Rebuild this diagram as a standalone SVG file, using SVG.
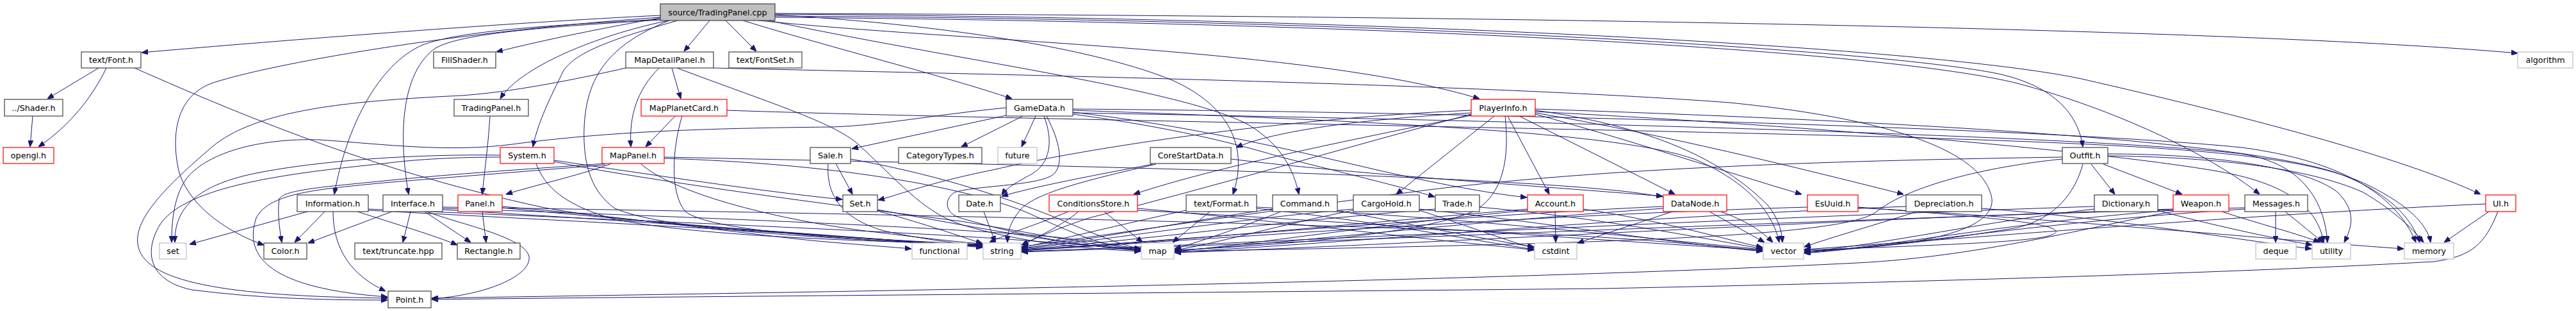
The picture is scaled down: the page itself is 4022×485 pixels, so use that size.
<svg xmlns="http://www.w3.org/2000/svg" width="4022" height="485" viewBox="0 0 4022 485">
<defs>
<marker id="a" markerWidth="10" markerHeight="8" refX="10" refY="4" orient="auto" markerUnits="userSpaceOnUse"><path d="M0,0 L10,4 L0,8 z" fill="#191970" stroke="#191970" stroke-width="1"/></marker>
</defs>
<style>
.n rect{fill:#fff;stroke:#404040;stroke-width:1.2}
.n.r rect{stroke:#ff0000}
.n.g rect{stroke:#bfbfbf}
.n.root rect{fill:#bfbfbf}
.n text{font-family:"DejaVu Sans","Liberation Sans",sans-serif;font-size:12.7px;text-anchor:middle;fill:#000}
#edges path{fill:none;stroke:#191970;stroke-width:1;marker-end:url(#a)}
</style>
<rect width="4022" height="485" fill="#fff"/>
<g id="edges">
<path d="M1031,24 C800,35 450,62 221,82"/>
<path d="M1031,28 C950,42 850,62 775,81"/>
<path d="M1108,32 L1068,80"/>
<path d="M1133,32 L1181,80"/>
<path d="M1210,21 C2400,25 3500,45 3931,83"/>
<path d="M1045,32 C950,50 815,100 781,154"/>
<path d="M1058,32 C960,60 900,80 880,110 C860,150 840,190 832,229"/>
<path d="M1160,32 C1300,75 1480,120 1580,154"/>
<path d="M1185,32 C1500,65 2050,75 2310,154"/>
<path d="M1031,30 C850,40 720,48 660,70 C590,100 540,200 522,303"/>
<path d="M1031,31 C850,42 720,52 680,75 C630,110 620,200 638,303"/>
<path d="M1031,27 C700,50 420,100 330,130 C265,155 270,230 280,270 C300,330 370,368 412,382"/>
<path d="M1210,23 C1500,40 1720,80 1830,125 C1920,165 1950,230 1925,303"/>
<path d="M1200,32 C1500,95 1850,140 1950,195 C2000,225 2020,265 2028,303"/>
<path d="M1210,25 C2200,30 2950,80 3120,115 C3210,135 3245,180 3252,229"/>
<path d="M1210,27 C2200,35 2950,80 3150,130 C3300,170 3450,240 3528,303"/>
<path d="M1210,22 C2300,30 3050,80 3250,123 C3500,180 3750,245 3873,303"/>
<path d="M1045,32 C950,70 915,120 912,200 C910,260 925,300 960,325 C1040,360 1300,372 1534,383"/>
<path d="M154,106 L74,154"/>
<path d="M166,106 C145,150 110,195 60,229"/>
<path d="M51,181 L47,229"/>
<path d="M210,106 C400,190 600,270 846,323 C950,345 1300,372 1534,381"/>
<path d="M1049,106 L1063,154"/>
<path d="M1029,106 C995,140 982,180 985,229"/>
<path d="M977,106 C850,135 760,148 700,150 C550,158 400,170 330,230 C260,290 210,340 215,380 C222,440 350,462 605,465"/>
<path d="M1057,106 C1200,160 1300,190 1340,225 C1400,280 1440,330 1500,350 C1600,380 1700,388 1781,392"/>
<path d="M1114,106 C1500,115 2300,130 2700,160 C3000,190 3100,250 3110,310 C3115,360 3000,385 2817,392"/>
<path d="M1054,181 L1008,229"/>
<path d="M1065,181 C1050,230 1045,300 1070,330 C1110,360 1300,372 1534,384"/>
<path d="M1135,172 C1500,185 2500,200 3000,215 C3400,228 3600,240 3700,290 C3760,320 3790,350 3795,378"/>
<path d="M765,181 C762,230 756,270 753,303"/>
<path d="M781,245 C720,245 650,248 600,255 C450,270 290,290 250,350 C220,400 240,440 300,452 C400,465 500,468 605,468"/>
<path d="M781,242 C650,240 500,250 400,270 C300,290 272,330 273,378"/>
<path d="M865,250 C1000,270 1200,300 1315,311"/>
<path d="M837,255 C850,290 880,320 960,342 C1100,370 1350,375 1534,382"/>
<path d="M865,252 C1000,280 1300,320 1500,345 C1650,370 1720,385 1781,390"/>
<path d="M955,255 C900,275 830,290 790,303"/>
<path d="M945,255 C850,262 720,270 600,282 C500,292 445,296 436,310 C433,330 436,355 440,378"/>
<path d="M945,257 C850,265 720,275 600,285 C500,295 420,300 400,340 C380,400 420,450 605,463"/>
<path d="M1037,247 C1300,255 1500,290 1600,330 C1680,365 1720,385 1781,389"/>
<path d="M1000,255 C1050,300 1200,340 1350,360 C1450,372 1500,378 1534,380"/>
<path d="M1037,245 C1500,255 2300,270 2550,300 C2700,320 2745,355 2768,378"/>
<path d="M1571,180 L1330,232"/>
<path d="M1597,181 L1501,229"/>
<path d="M1617,181 L1595,229"/>
<path d="M1630,181 C1645,220 1640,255 1610,272 C1585,285 1570,295 1564,304"/>
<path d="M1634,181 C1660,230 1660,265 1640,275 C1610,290 1520,290 1490,300 C1470,315 1480,335 1500,340 C1600,370 1700,385 1781,390"/>
<path d="M1571,168 C1450,180 1380,195 1300,198 C1100,200 950,205 800,225 C700,238 600,225 500,218 C400,215 320,240 290,280 C270,310 268,350 268,378"/>
<path d="M1675,178 C1800,195 1900,215 2000,245 C2120,275 2190,292 2240,307"/>
<path d="M1675,175 C1850,195 2000,230 2150,265 C2260,290 2330,302 2384,308"/>
<path d="M1922,248 C2100,270 2400,290 2596,306"/>
<path d="M1675,170 C2300,175 3200,200 3500,230 C3650,250 3740,300 3772,378"/>
<path d="M1675,172 C2200,190 2550,210 2650,250 C2740,290 2770,340 2778,378"/>
<path d="M1675,176 C2500,190 3300,215 3500,240 C3600,255 3630,320 3634,378"/>
<path d="M2297,176 C2150,185 2000,200 1930,230"/>
<path d="M2297,180 C2100,220 1900,260 1770,303"/>
<path d="M2333,181 L2180,303"/>
<path d="M2354,181 L2419,303"/>
<path d="M2372,181 L2615,303"/>
<path d="M2397,178 C2550,220 2700,270 2813,303"/>
<path d="M2397,176 C2600,210 2800,260 2972,303"/>
<path d="M2297,172 C2000,185 1700,230 1550,265 C1450,285 1400,305 1371,312"/>
<path d="M2350,181 C2355,230 2355,300 2300,330 C2200,370 1950,385 1834,390"/>
<path d="M2297,178 C2100,230 1900,290 1700,340 C1640,360 1610,375 1595,382"/>
<path d="M2397,172 C2600,200 2700,260 2760,320 C2780,345 2782,365 2783,378"/>
<path d="M2397,170 C3000,190 3500,220 3650,270 C3730,300 3765,340 3778,378"/>
<path d="M2397,174 C2900,200 3300,240 3450,265 C3580,285 3620,330 3628,378"/>
<path d="M1305,255 L1331,303"/>
<path d="M1293,256 C1290,300 1310,340 1380,360 C1450,375 1500,380 1534,383"/>
<path d="M1328,248 C1450,270 1550,300 1650,340 C1720,370 1760,385 1781,388"/>
<path d="M1800,256 C1700,275 1620,290 1564,306"/>
<path d="M1805,256 C1700,280 1620,300 1595,325 C1578,345 1573,360 1573,378"/>
<path d="M3265,256 L3302,303"/>
<path d="M3284,256 L3407,303"/>
<path d="M3220,248 C3100,260 2980,290 2930,330 C2880,370 2500,380 1834,392"/>
<path d="M3220,245 C2900,250 2500,260 2200,300 C1900,340 1700,370 1595,385"/>
<path d="M3252,256 C3240,300 3210,340 3150,355 C3000,380 2900,388 2817,392"/>
<path d="M3291,240 C3450,240 3600,260 3650,300 C3680,330 3672,355 3660,378"/>
<path d="M3291,243 C3450,245 3600,260 3690,300 C3740,330 3765,355 3784,378"/>
<path d="M480,330 L296,381"/>
<path d="M507,330 L460,378"/>
<path d="M520,330 C520,390 550,430 602,454"/>
<path d="M558,330 C620,350 680,368 714,382"/>
<path d="M575,326 C900,340 1400,360 1600,375 C1700,382 1760,388 1781,391"/>
<path d="M575,328 C900,345 1300,365 1534,385"/>
<path d="M612,330 L481,379"/>
<path d="M641,330 L629,378"/>
<path d="M663,330 L735,378"/>
<path d="M666,330 C720,350 820,370 826,400 C830,430 760,460 674,466"/>
<path d="M691,325 C1000,335 1500,355 1650,370 C1720,378 1760,385 1781,389"/>
<path d="M691,327 C1000,345 1350,370 1534,386"/>
<path d="M691,323 C1200,330 2200,350 2500,370 C2650,380 2720,388 2752,391"/>
<path d="M753,330 L759,378"/>
<path d="M784,322 C1000,340 1200,370 1300,378 C1360,383 1400,386 1423,388"/>
<path d="M784,324 C1000,345 1300,370 1534,384"/>
<path d="M1370,327 C1500,350 1650,380 1781,391"/>
<path d="M1370,329 C1430,345 1490,365 1534,380"/>
<path d="M1536,330 L1554,378"/>
<path d="M1684,330 C1660,350 1620,370 1596,382"/>
<path d="M1668,330 C1620,350 1570,365 1545,378"/>
<path d="M1724,330 L1784,378"/>
<path d="M1776,325 C1950,340 2200,370 2300,380 C2350,385 2380,388 2395,390"/>
<path d="M1776,328 C2100,345 2500,375 2752,390"/>
<path d="M1852,328 C1750,350 1650,375 1595,386"/>
<path d="M1889,330 L1831,378"/>
<path d="M1962,325 C2150,345 2300,375 2395,389"/>
<path d="M1962,323 C2300,340 2600,375 2752,389"/>
<path d="M1987,326 C1850,345 1700,375 1595,387"/>
<path d="M2088,328 C2200,350 2330,375 2395,385"/>
<path d="M2000,330 C1950,350 1880,375 1834,388"/>
<path d="M2113,328 C2000,350 1900,380 1834,390"/>
<path d="M2113,326 C1900,345 1700,378 1595,388"/>
<path d="M2216,328 C2300,355 2360,378 2395,387"/>
<path d="M2216,326 C2400,345 2600,378 2752,392"/>
<path d="M2241,326 C2000,345 1750,378 1595,389"/>
<path d="M2310,323 C2500,340 2650,370 2752,388"/>
<path d="M2428,330 L2429,378"/>
<path d="M2385,326 C2100,350 1800,380 1595,390"/>
<path d="M2385,328 C2150,350 1950,382 1834,392"/>
<path d="M2472,326 C2600,345 2700,375 2752,386"/>
<path d="M2611,330 L2463,379"/>
<path d="M2597,322 C2300,335 1900,370 1595,390"/>
<path d="M2669,330 L2755,378"/>
<path d="M2597,325 C2300,345 2000,380 1834,391"/>
<path d="M2822,323 C2400,335 1900,372 1595,391"/>
<path d="M2901,324 C3200,340 3600,378 3753,388"/>
<path d="M2901,323 C3050,335 3200,345 3210,360 C3215,375 3100,380 2817,390"/>
<path d="M2993,330 C2930,350 2860,370 2817,385"/>
<path d="M2976,322 C2500,340 2100,380 1834,393"/>
<path d="M3094,325 C3300,340 3500,375 3609,388"/>
<path d="M3270,322 C2700,340 2000,378 1595,392"/>
<path d="M3368,328 C3450,350 3550,372 3610,382"/>
<path d="M3270,326 C3100,345 2950,380 2817,393"/>
<path d="M3393,330 C3300,345 3100,400 2900,410 C2300,440 1300,455 674,465"/>
<path d="M3469,330 C3530,350 3590,365 3622,378"/>
<path d="M3393,326 C2900,340 2200,382 1834,394"/>
<path d="M3393,328 C3150,345 2950,385 2817,394"/>
<path d="M3553,330 L3553,378"/>
<path d="M3568,330 L3627,378"/>
<path d="M3505,324 C2900,340 2000,380 1595,393"/>
<path d="M3505,326 C3200,345 2950,385 2817,395"/>
<path d="M3886,330 L3816,378"/>
<path d="M3900,330 C3880,380 3860,400 3800,408 C3500,425 3000,440 2500,450 C1700,458 1000,463 674,467"/>
<path d="M3881,318 C3500,335 3100,370 2817,389"/>
</g>
<g id="n_src" class="n root"><rect x="1031" y="6" width="179" height="26"/><text x="1120.5" y="23.5">source/TradingPanel.cpp</text></g>
<g id="n_font" class="n"><rect x="127" y="81" width="93" height="25"/><text x="173.5" y="98">text/Font.h</text></g>
<g id="n_fill" class="n"><rect x="677" y="81" width="97" height="25"/><text x="725.5" y="98">FillShader.h</text></g>
<g id="n_mdp" class="n"><rect x="977" y="81" width="137" height="25"/><text x="1045.5" y="98">MapDetailPanel.h</text></g>
<g id="n_fontset" class="n"><rect x="1138" y="81" width="114" height="25"/><text x="1195" y="98">text/FontSet.h</text></g>
<g id="n_algorithm" class="n g"><rect x="3931" y="81" width="86" height="25"/><text x="3974" y="98">algorithm</text></g>
<g id="n_shader" class="n"><rect x="7" y="155" width="91" height="26"/><text x="52.5" y="172.5">../Shader.h</text></g>
<g id="n_tp" class="n"><rect x="709" y="155" width="116" height="26"/><text x="767" y="172.5">TradingPanel.h</text></g>
<g id="n_mpc" class="n r"><rect x="1001" y="155" width="134" height="26"/><text x="1068" y="172.5">MapPlanetCard.h</text></g>
<g id="n_gd" class="n"><rect x="1571" y="155" width="104" height="26"/><text x="1623" y="172.5">GameData.h</text></g>
<g id="n_pi" class="n r"><rect x="2297" y="155" width="100" height="26"/><text x="2347" y="172.5">PlayerInfo.h</text></g>
<g id="n_opengl" class="n r"><rect x="5" y="230" width="79" height="25"/><text x="44.5" y="247">opengl.h</text></g>
<g id="n_system" class="n r"><rect x="781" y="230" width="84" height="25"/><text x="823" y="247">System.h</text></g>
<g id="n_mappanel" class="n r"><rect x="940" y="230" width="97" height="25"/><text x="988.5" y="247">MapPanel.h</text></g>
<g id="n_sale" class="n"><rect x="1265" y="230" width="63" height="25"/><text x="1296.5" y="247">Sale.h</text></g>
<g id="n_cat" class="n"><rect x="1403" y="230" width="130" height="25"/><text x="1468" y="247">CategoryTypes.h</text></g>
<g id="n_future" class="n g"><rect x="1558" y="230" width="61" height="25"/><text x="1588.5" y="247">future</text></g>
<g id="n_csd" class="n"><rect x="1796" y="230" width="126" height="25"/><text x="1859" y="247">CoreStartData.h</text></g>
<g id="n_outfit" class="n"><rect x="3220" y="230" width="71" height="25"/><text x="3255.5" y="247">Outfit.h</text></g>
<g id="n_info" class="n"><rect x="464" y="304" width="111" height="26"/><text x="519.5" y="321.5">Information.h</text></g>
<g id="n_iface" class="n"><rect x="598" y="304" width="93" height="26"/><text x="644.5" y="321.5">Interface.h</text></g>
<g id="n_panel" class="n r"><rect x="715" y="304" width="69" height="26"/><text x="749.5" y="321.5">Panel.h</text></g>
<g id="n_seth" class="n"><rect x="1316" y="304" width="54" height="26"/><text x="1343" y="321.5">Set.h</text></g>
<g id="n_date" class="n"><rect x="1497" y="304" width="65" height="26"/><text x="1529.5" y="321.5">Date.h</text></g>
<g id="n_cond" class="n r"><rect x="1638" y="304" width="138" height="26"/><text x="1707" y="321.5">ConditionsStore.h</text></g>
<g id="n_format" class="n"><rect x="1852" y="304" width="110" height="26"/><text x="1907" y="321.5">text/Format.h</text></g>
<g id="n_command" class="n"><rect x="1987" y="304" width="101" height="26"/><text x="2037.5" y="321.5">Command.h</text></g>
<g id="n_cargo" class="n"><rect x="2113" y="304" width="103" height="26"/><text x="2164.5" y="321.5">CargoHold.h</text></g>
<g id="n_trade" class="n"><rect x="2241" y="304" width="69" height="26"/><text x="2275.5" y="321.5">Trade.h</text></g>
<g id="n_account" class="n r"><rect x="2385" y="304" width="87" height="26"/><text x="2428.5" y="321.5">Account.h</text></g>
<g id="n_datanode" class="n r"><rect x="2597" y="304" width="99" height="26"/><text x="2646.5" y="321.5">DataNode.h</text></g>
<g id="n_esuuid" class="n r"><rect x="2822" y="304" width="79" height="26"/><text x="2861.5" y="321.5">EsUuid.h</text></g>
<g id="n_deprec" class="n"><rect x="2976" y="304" width="118" height="26"/><text x="3035" y="321.5">Depreciation.h</text></g>
<g id="n_dict" class="n"><rect x="3270" y="304" width="99" height="26"/><text x="3319.5" y="321.5">Dictionary.h</text></g>
<g id="n_weapon" class="n r"><rect x="3393" y="304" width="87" height="26"/><text x="3436.5" y="321.5">Weapon.h</text></g>
<g id="n_messages" class="n"><rect x="3505" y="304" width="98" height="26"/><text x="3554" y="321.5">Messages.h</text></g>
<g id="n_ui" class="n r"><rect x="3881" y="304" width="47" height="26"/><text x="3904.5" y="321.5">UI.h</text></g>
<g id="n_set" class="n g"><rect x="249" y="379" width="42" height="25"/><text x="270" y="396">set</text></g>
<g id="n_color" class="n"><rect x="412" y="379" width="67" height="25"/><text x="445.5" y="396">Color.h</text></g>
<g id="n_trunc" class="n"><rect x="554" y="379" width="136" height="25"/><text x="622" y="396">text/truncate.hpp</text></g>
<g id="n_rect" class="n"><rect x="714" y="379" width="98" height="25"/><text x="763" y="396">Rectangle.h</text></g>
<g id="n_functional" class="n g"><rect x="1424" y="379" width="86" height="25"/><text x="1467" y="396">functional</text></g>
<g id="n_string" class="n g"><rect x="1535" y="379" width="59" height="25"/><text x="1564.5" y="396">string</text></g>
<g id="n_map" class="n g"><rect x="1782" y="379" width="51" height="25"/><text x="1807.5" y="396">map</text></g>
<g id="n_cstdint" class="n g"><rect x="2396" y="379" width="66" height="25"/><text x="2429" y="396">cstdint</text></g>
<g id="n_vector" class="n g"><rect x="2753" y="379" width="63" height="25"/><text x="2784.5" y="396">vector</text></g>
<g id="n_deque" class="n g"><rect x="3522" y="379" width="63" height="25"/><text x="3553.5" y="396">deque</text></g>
<g id="n_utility" class="n g"><rect x="3610" y="379" width="60" height="25"/><text x="3640" y="396">utility</text></g>
<g id="n_memory" class="n g"><rect x="3754" y="379" width="77" height="25"/><text x="3792.5" y="396">memory</text></g>
<g id="n_point" class="n"><rect x="606" y="454" width="67" height="26"/><text x="639.5" y="471.5">Point.h</text></g>
</svg>
